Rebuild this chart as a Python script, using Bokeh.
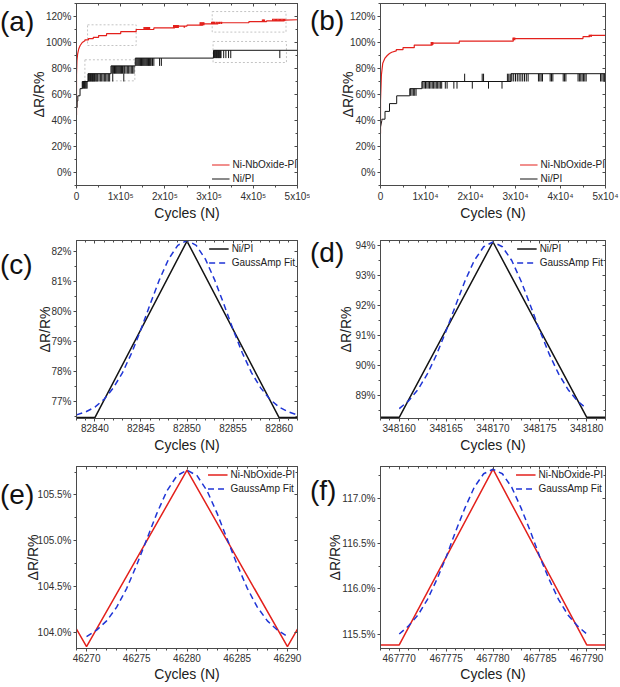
from bokeh.plotting import figure
from bokeh.models import (LinearAxis, Range1d, FixedTicker, Legend, LegendItem,
                          PrintfTickFormatter, GridBox, Div)
from bokeh.embed import file_html
from bokeh.resources import INLINE

FONT = "Liberation Sans"
RED = "#e3211c"
BLUE = "#1f35d6"
BLACK = "#141414"
AXC = "#4a4a4a"
BOXC = "#c4c4c4"

# ---------------- panel (a): long-term cycling, 0 .. 5x10^5 ----------------
a_red_x = [0, 0, 1000, 2500, 5000, 8000, 13000, 19000, 19000, 27000, 27000, 38000, 38000,
           50000, 50000, 68000, 68000, 100000, 100000, 135000, 135000, 175000, 175000,
           222000, 222000, 250000, 250000, 285000, 285000, 320000, 320000, 390000, 390000,
           430000, 430000, 470000, 470000, 500000]
a_red_y = [44, 75, 86, 91, 95, 97.5, 100, 101.3, 102, 102, 103, 103, 104,
           104, 105.3, 105.3, 106.8, 106.8, 108.3, 108.3, 110, 110, 111.2,
           111.2, 112.6, 112.6, 113.3, 113.3, 114.3, 114.3, 115.2, 115.2, 116,
           116, 116.6, 116.6, 117.2, 117.5]
a_red_sp_x = [153000, 155000, 157000, 159000, 161000, 163000, 165000,
              220000, 222000, 224000, 226000, 228000, 230000, 244000,
              280000, 282000, 284000, 286000, 288000,
              306000, 308000, 310000, 312000, 316000, 320000, 324000, 328000,
              421000, 423000, 425000,
              444000, 447000, 450000, 453000, 456000, 459000, 462000, 465000, 468000, 471000]
a_red_sp_lo = [110, 110, 110, 110, 110, 110, 110,
               111.2, 111.2, 111.2, 111.2, 111.2, 111.2, 111.3,
               113.3, 113.3, 113.3, 113.3, 113.3,
               114.3, 114.3, 114.3, 114.3, 114.3, 114.3, 114.3, 114.3,
               116, 116, 116,
               116.6, 116.6, 116.6, 116.6, 116.6, 116.6, 116.6, 116.6, 116.6, 116.6]
a_red_sp_hi = [112, 112, 112, 112, 112, 112, 112,
               113.5, 113.5, 113.5, 113.5, 113.5, 113.5, 112.6,
               115.5, 115.5, 115.5, 115.5, 115.5,
               116, 116, 116, 116, 116, 116, 116, 116,
               117.6, 117.6, 117.6,
               118.2, 118.2, 118.2, 118.2, 118.2, 118.2, 118.2, 118.2, 118.2, 118.2]

a_blk_x = [0, 0, 1500, 1500, 3000, 3000, 8000, 8000, 13000, 13000, 26000, 26000,
           78000, 78000, 133000, 133000, 310000, 310000, 500000]
a_blk_y = [38, 50, 50, 55, 55, 59, 59, 64.5, 64.5, 70, 70, 76,
           76, 82, 82, 88, 88, 94, 94]
a_blk_sp_x = [14000, 16000, 18000, 20000, 22000, 24000,
              27000, 28500, 30000, 31500, 33000, 34500, 36000, 37500, 39000, 40500, 42000,
              44000, 46000, 48000, 51000, 54000, 57000, 60000, 63000, 66000, 69000, 72000, 75000,
              80000, 82000, 84000, 86000, 88000, 90000, 92000, 94000, 96000, 98000, 100000,
              102000, 104000, 107000, 109000, 112000, 115000, 118000, 121000, 124000, 127000, 130000,
              135000, 137000, 139000, 141000, 143000, 145000, 147000, 149000, 151000, 153000,
              155000, 157000, 159000, 161000, 163000, 165000, 167000, 169000, 172000, 175000,
              188000, 192000,
              312000, 313500, 315000, 316500, 318000, 319500, 321000, 322500, 324000, 325500,
              327000, 333000, 338000, 344000, 349000, 460000]
a_blk_sp_lo = [64.5] * 6 + [70] * 23 + [76] * 22 + [82] * 22 + [88] * 16
a_blk_sp_hi = [70] * 6 + [76] * 23 + [82] * 22 + [88] * 22 + [94] * 16
a_blk_sp_lo[30] = 70
a_blk_sp_lo[42] = 70

# zoom boxes marked in (a): left, right, bottom, top
box_l = [25000, 19000, 307000, 309000]
box_r = [135000, 132000, 474000, 475000]
box_b = [97.7, 70.5, 108, 84.6]
box_t = [113.6, 86.7, 123.8, 100.8]

# ---------------- panel (b): 0 .. 5x10^4 ----------------
b_red_x = [0, 0, 200, 500, 1000, 1500, 2000, 2500, 3500, 3500, 5000, 5000, 7500, 7500,
           11500, 11500, 17500, 17500, 29500, 29500, 45000, 45000, 46500, 46500, 50000]
b_red_y = [30, 55, 75, 84, 88, 90, 91.5, 92.5, 93.5, 94.5, 94.5, 96, 96, 98,
           98, 99.5, 99.5, 101, 101, 103, 103, 104.5, 104.5, 105.5, 105.5]
b_red_sp_x = [11300, 11600, 29500, 29800, 46400, 46800]
b_red_sp_lo = [98, 98, 101.8, 101.8, 104.3, 104.3]
b_red_sp_hi = [100.3, 100.3, 103.8, 103.8, 106, 106]

b_blk_x = [0, 0, 300, 300, 1000, 1000, 2000, 2000, 3600, 3600, 6500, 6500, 9200, 9200,
           29000, 29000, 50000]
b_blk_y = [12, 35, 40, 41, 41, 47, 47, 53, 53, 59, 59, 64.5, 64.5, 70,
           70, 76, 76]
b_blk_sp_x = [6700, 7000, 7300, 7600, 7900,
              9400, 9700, 10000, 10300, 10600, 10900, 11200, 11500, 11800, 12100, 12400,
              12700, 13000, 13300, 13600, 14400, 14800, 16300, 17000,
              20400, 24000, 27000,
              18700, 22600, 22900, 28200, 28500, 28800, 29200, 29600, 30000, 30400, 30800,
              31200, 31600, 32000, 32400, 32800, 35100, 35400, 35700, 36000, 37700, 38000,
              38300, 40600, 40900, 41200, 43900, 44200, 44500, 44800, 45100, 45400, 45700,
              48900, 49200, 49500, 49800]
b_blk_sp_lo = [59] * 5 + [64.5] * 19 + [64.5] * 3 + [70] * 37
b_blk_sp_hi = [64.5] * 5 + [70] * 19 + [70] * 3 + [76] * 37

# ---------------- panel (c): Ni/PI around cycle 82850 ----------------
c_x = [82838, 82840, 82850, 82860, 82862]
c_y = [76.47, 76.47, 82.35, 76.47, 76.47]
c_fit_x = [82838, 82839, 82840, 82841, 82842, 82843, 82844, 82845, 82846, 82847, 82848, 82849,
           82850, 82851, 82852, 82853, 82854, 82855, 82856, 82857, 82858, 82859, 82860,
           82861, 82862]
c_fit_y = [76.56, 76.66, 76.82, 77.08, 77.46, 77.97, 78.63, 79.41, 80.25, 81.06, 81.75, 82.21,
           82.37, 82.21, 81.75, 81.06, 80.25, 79.41, 78.63, 77.97, 77.46, 77.08, 76.82,
           76.66, 76.56]

# ---------------- panel (d): Ni/PI around cycle 348170 ----------------
d_x = [348158, 348160, 348170, 348180, 348182]
d_y = [88.26, 88.26, 94.12, 88.26, 88.26]
d_fit_x = [348160, 348161, 348162, 348163, 348164, 348165, 348166, 348167, 348168, 348169,
           348170, 348171, 348172, 348173, 348174, 348175, 348176, 348177, 348178, 348179,
           348180]
d_fit_y = [88.55, 88.81, 89.19, 89.71, 90.37, 91.15, 91.99, 92.81, 93.50, 93.96,
           94.12, 93.96, 93.50, 92.81, 91.99, 91.15, 90.37, 89.71, 89.19, 88.81,
           88.55]

# ---------------- panel (e): Ni-NbOxide-PI around cycle 46280 ----------------
e_x = [46269, 46270, 46280, 46290, 46291]
e_y = [104.04, 103.85, 105.77, 103.85, 104.04]
e_fit_x = [46270, 46271, 46272, 46273, 46274, 46275, 46276, 46277, 46278, 46279,
           46280, 46281, 46282, 46283, 46284, 46285, 46286, 46287, 46288, 46289, 46290]
e_fit_y = [103.96, 104.03, 104.13, 104.28, 104.485, 104.74, 105.02, 105.30, 105.545, 105.71,
           105.77, 105.71, 105.545, 105.30, 105.02, 104.74, 104.485, 104.28, 104.13, 104.03,
           103.96]

# ---------------- panel (f): Ni-NbOxide-PI around cycle 467780 ----------------
f_x = [467768, 467770, 467780, 467790, 467792]
f_y = [115.38, 115.38, 117.32, 115.38, 115.38]
f_fit_x = [467770, 467771, 467772, 467773, 467774, 467775, 467776, 467777, 467778, 467779,
           467780, 467781, 467782, 467783, 467784, 467785, 467786, 467787, 467788, 467789,
           467790]
f_fit_y = [115.50, 115.59, 115.71, 115.88, 116.10, 116.35, 116.63, 116.89, 117.12, 117.27,
           117.32, 117.27, 117.12, 116.89, 116.63, 116.35, 116.10, 115.88, 115.71, 115.59,
           115.50]

# tick labels for the long-range panels
a_xticks = [0, 100000, 200000, 300000, 400000, 500000]
a_xlabels = ["0", "1x10\u2075", "2x10\u2075", "3x10\u2075", "4x10\u2075", "5x10\u2075"]
b_xticks = [0, 10000, 20000, 30000, 40000, 50000]
b_xlabels = ["0", "1x10\u2074", "2x10\u2074", "3x10\u2074", "4x10\u2074", "5x10\u2074"]
ab_yticks = [0, 20, 40, 60, 80, 100, 120]
panel_letters = ["(a)", "(b)", "(c)", "(d)", "(e)", "(f)"]


def frange(a, b, step):
    out, v = [], a
    while v <= b + 1e-9:
        out.append(round(v, 4))
        v += step
    return out


def base_fig(xr, yr, left, right, top, bottom):
    p = figure(width=310, height=228, x_range=Range1d(*xr), y_range=Range1d(*yr),
               output_backend="svg", toolbar_location=None,
               min_border_left=left, min_border_right=right,
               min_border_top=top, min_border_bottom=bottom)
    p.grid.visible = False
    p.outline_line_color = AXC
    p.outline_line_width = 1
    return p


def style(p, xt, yt, xfmt, yfmt, ylab_standoff, xlab_standoff, xoverrides=None):
    xa, ya = p.xaxis[0], p.yaxis[0]
    for ax in (xa, ya):
        ax.axis_line_color = AXC
        ax.major_tick_line_color = AXC
        ax.minor_tick_line_color = AXC
        ax.major_tick_out = 3
        ax.major_tick_in = 0
        ax.minor_tick_out = 2
        ax.minor_tick_in = 0
        ax.major_label_text_font = FONT
        ax.major_label_text_font_size = "10px"
        ax.major_label_text_color = "#303030"
        ax.major_label_standoff = 2
        ax.axis_label_text_font = FONT
        ax.axis_label_text_font_size = "14px"
        ax.axis_label_text_font_style = "normal"
        ax.axis_label_text_color = "#202020"
    xa.ticker = xt
    ya.ticker = yt
    if xfmt is not None:
        xa.formatter = xfmt
    if xoverrides is not None:
        xa.major_label_overrides = xoverrides
    ya.formatter = yfmt
    xa.axis_label = "Cycles (N)"
    ya.axis_label = "\u0394R/R%"
    xa.axis_label_standoff = xlab_standoff
    ya.axis_label_standoff = ylab_standoff
    for loc, tk in (("above", xt), ("right", yt)):
        m = LinearAxis(ticker=tk, major_label_text_font_size="0px", major_label_standoff=0,
                       major_label_overrides={t: "" for t in tk.ticks},
                       major_tick_in=3, major_tick_out=0, minor_tick_in=2, minor_tick_out=0,
                       axis_line_color=AXC, major_tick_line_color=AXC, minor_tick_line_color=AXC)
        p.add_layout(m, loc)


def legend(p, items, loc, gw, margin):
    lg = Legend(items=[LegendItem(label=l, renderers=[r]) for l, r in items], location=loc,
                border_line_alpha=0, background_fill_alpha=0, label_text_font=FONT,
                label_text_font_size="10px", label_text_color="#222222",
                glyph_width=gw, glyph_height=13, label_height=13, label_standoff=3,
                padding=0, margin=margin, spacing=1)
    p.add_layout(lg)


# ---- (a)
pa = base_fig((0, 500000), (-10, 130), 72, 12, 3, 43)
for l, r, b, t in zip(box_l, box_r, box_b, box_t):
    pa.quad(left=l, right=r, bottom=b, top=t, fill_alpha=0, line_color=BOXC,
            line_dash="2 2", line_width=1)
ra_blk = pa.line(a_blk_x, a_blk_y, line_color=BLACK, line_width=1)
pa.segment(a_blk_sp_x, a_blk_sp_lo, a_blk_sp_x, a_blk_sp_hi, line_color=BLACK, line_width=1)
ra_red = pa.line(a_red_x, a_red_y, line_color=RED, line_width=1.2)
pa.segment(a_red_sp_x, a_red_sp_lo, a_red_sp_x, a_red_sp_hi, line_color=RED, line_width=1.5)
style(pa, FixedTicker(ticks=a_xticks, minor_ticks=frange(0, 500000, 50000)),
      FixedTicker(ticks=ab_yticks, minor_ticks=frange(-10, 130, 10)),
      None, PrintfTickFormatter(format="%d%%"), -4, 0,
      {t: s for t, s in zip(a_xticks, a_xlabels)})
legend(pa, [("Ni-NbOxide-PI", ra_red), ("Ni/PI", ra_blk)], "bottom_right", 18, 0)

# ---- (b)
pb = base_fig((0, 50000), (-10, 130), 69, 14, 3, 43)
rb_blk = pb.line(b_blk_x, b_blk_y, line_color=BLACK, line_width=1)
pb.segment(b_blk_sp_x, b_blk_sp_lo, b_blk_sp_x, b_blk_sp_hi, line_color=BLACK, line_width=1)
rb_red = pb.line(b_red_x, b_red_y, line_color=RED, line_width=1.2)
pb.segment(b_red_sp_x, b_red_sp_lo, b_red_sp_x, b_red_sp_hi, line_color=RED, line_width=1.5)
style(pb, FixedTicker(ticks=b_xticks, minor_ticks=frange(0, 50000, 5000)),
      FixedTicker(ticks=ab_yticks, minor_ticks=frange(-10, 130, 10)),
      None, PrintfTickFormatter(format="%d%%"), -9, 0,
      {t: s for t, s in zip(b_xticks, b_xlabels)})
legend(pb, [("Ni-NbOxide-PI", rb_red), ("Ni/PI", rb_blk)], "bottom_right", 18, 0)

# ---- (c)
pc = base_fig((82838, 82862), (76.44, 82.37), 76, 13, 12, 38)
rc = pc.line(c_x, c_y, line_color=BLACK, line_width=1.5)
rcf = pc.line(c_fit_x, c_fit_y, line_color=BLUE, line_width=1.5, line_dash="6 4")
style(pc, FixedTicker(ticks=frange(82840, 82860, 5), minor_ticks=frange(82838, 82862, 1)),
      FixedTicker(ticks=frange(77, 82, 1), minor_ticks=frange(76.5, 82, 0.5)),
      PrintfTickFormatter(format="%d"), PrintfTickFormatter(format="%d%%"), -5, 2)
legend(pc, [("Ni/PI", rc), ("GaussAmp Fit", rcf)], "top_right", 20, 2)

# ---- (d)
pd_ = base_fig((348158, 348182), (88.22, 94.17), 70, 15, 12, 38)
rd = pd_.line(d_x, d_y, line_color=BLACK, line_width=1.5)
rdf = pd_.line(d_fit_x, d_fit_y, line_color=BLUE, line_width=1.5, line_dash="6 4")
style(pd_, FixedTicker(ticks=frange(348160, 348180, 5), minor_ticks=frange(348158, 348182, 1)),
      FixedTicker(ticks=frange(89, 94, 1), minor_ticks=frange(88.5, 94, 0.5)),
      PrintfTickFormatter(format="%d"), PrintfTickFormatter(format="%d%%"), -2, 2)
legend(pd_, [("Ni/PI", rd), ("GaussAmp Fit", rdf)], "top_right", 20, 2)

# ---- (e)
pe = base_fig((46269, 46291), (103.83, 105.81), 73, 8, 10, 34)
re_ = pe.line(e_x, e_y, line_color=RED, line_width=1.5)
ref = pe.line(e_fit_x, e_fit_y, line_color=BLUE, line_width=1.5, line_dash="6 4")
style(pe, FixedTicker(ticks=frange(46270, 46290, 5), minor_ticks=frange(46269, 46291, 1)),
      FixedTicker(ticks=frange(104.0, 105.5, 0.5), minor_ticks=frange(103.75, 105.75, 0.25)),
      PrintfTickFormatter(format="%d"), PrintfTickFormatter(format="%.1f%%"), -6, 1)
legend(pe, [("Ni-NbOxide-PI", re_), ("GaussAmp Fit", ref)], "top_right", 20, 2)

# ---- (f)
pf = base_fig((467768, 467792), (115.34, 117.35), 70, 14, 10, 34)
rf = pf.line(f_x, f_y, line_color=RED, line_width=1.5)
rff = pf.line(f_fit_x, f_fit_y, line_color=BLUE, line_width=1.5, line_dash="6 4")
style(pf, FixedTicker(ticks=frange(467770, 467790, 5), minor_ticks=frange(467768, 467792, 1)),
      FixedTicker(ticks=frange(115.5, 117.0, 0.5), minor_ticks=frange(115.25, 117.25, 0.25)),
      PrintfTickFormatter(format="%d"), PrintfTickFormatter(format="%.1f%%"), -4, 1)
legend(pf, [("Ni-NbOxide-PI", rf), ("GaussAmp Fit", rff)], "top_right", 20, 2)

figs = [pa, pb, pc, pd_, pe, pf]
letter_top = [8, 7, 23, 11, 25, 21]
children = []
for i, p in enumerate(figs):
    children.append((p, i // 2, i % 2))
for i, txt in enumerate(panel_letters):
    d = Div(text=txt, width=40, height=30, margin=(letter_top[i], 0, 0, 0),
            styles={"font-family": FONT, "font-size": "28px", "line-height": "28px",
                    "color": "#111111", "z-index": "5"})
    children.append((d, i // 2, i % 2))

layout = GridBox(children=children, spacing=0)
open("out.html", "w").write(file_html(layout, INLINE))
